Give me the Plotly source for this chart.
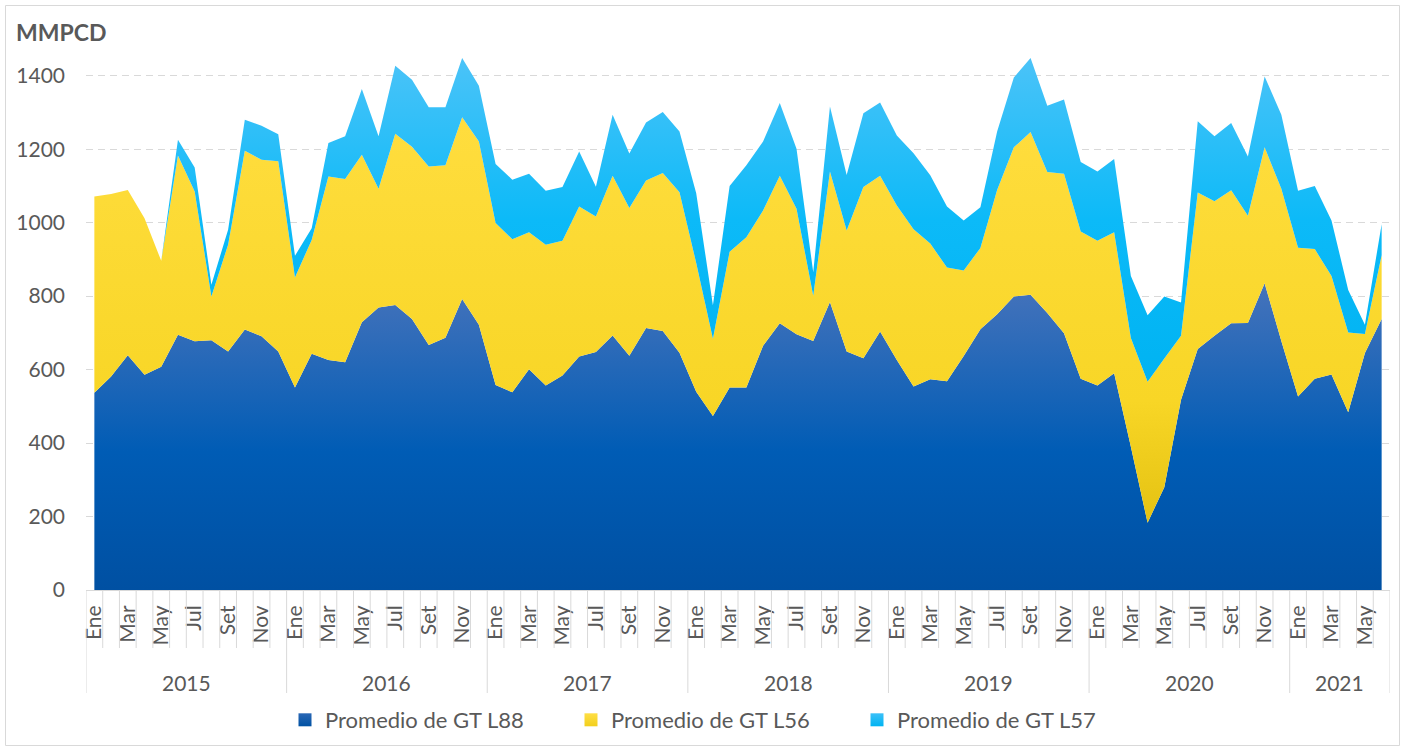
import plotly.graph_objects as go

# ---------------- data ----------------
month_names = ["Ene", "Feb", "Mar", "Abr", "May", "Jun", "Jul", "Ago", "Set", "Oct", "Nov", "Dic"]
years = [2015, 2016, 2017, 2018, 2019, 2020, 2021]
months_in_last_year = 6

gt_l88 = [537, 581, 639, 586, 608, 695, 677, 680, 649, 709, 691, 649,
          551, 643, 626, 620, 729, 769, 776, 738, 667, 687, 792, 722,
          558, 538, 601, 557, 584, 636, 648, 693, 638, 713, 705, 646,
          540, 474, 551, 551, 665, 726, 696, 678, 784, 649, 631, 704,
          626, 554, 574, 568, 637, 710, 751, 799, 804, 754, 699, 575,
          557, 590, 390, 183, 280, 518, 656, 692, 726, 727, 835, 678,
          527, 575, 587, 484, 645, 738]

gt_l56 = [534, 497, 450, 426, 288, 488, 408, 119, 291, 487, 480, 518,
          300, 310, 500, 499, 456, 323, 466, 469, 486, 469, 495, 499,
          441, 417, 373, 383, 367, 408, 369, 435, 402, 402, 430, 437,
          350, 210, 370, 409, 368, 402, 342, 123, 355, 330, 466, 424,
          421, 428, 369, 310, 233, 221, 338, 406, 443, 384, 434, 401,
          394, 384, 296, 384, 350, 174, 426, 366, 362, 292, 370, 414,
          405, 353, 268, 217, 52, 173]

gt_l57 = [0, 0, 0, 0, 0, 43, 65, 32, 41, 84, 93, 74,
          59, 32, 91, 116, 179, 143, 185, 182, 161, 158, 161, 152,
          161, 162, 159, 147, 146, 150, 81, 166, 148, 158, 166, 165,
          190, 91, 179, 196, 188, 198, 163, 64, 177, 151, 201, 199,
          190, 207, 186, 166, 136, 111, 159, 190, 201, 180, 202, 189,
          188, 199, 169, 181, 169, 91, 194, 177, 183, 161, 193, 202,
          155, 172, 151, 116, 25, 85]

series_names = ["Promedio de GT L88", "Promedio de GT L56", "Promedio de GT L57"]
y_title = "MMPCD"

# ---------------- categories ----------------
cat_year, cat_month = [], []
for y in years:
    n = months_in_last_year if y == years[-1] else 12
    for m in month_names[:n]:
        cat_year.append(y)
        cat_month.append(m)
categories = [f"{m} {y}" for m, y in zip(cat_month, cat_year)]
N = len(categories)

# ---------------- layout geometry (pixels) ----------------
W, H = 1405, 747
ML, MR, MT, MB = 86, 15, 39, 157
PW, PH = W - ML - MR, H - MT - MB


def px_to_paper_x(px):
    return (px - ML) / PW


def px_to_paper_y(py):
    return (H - MB - py) / PH


TXT = "#595959"
FONT = "Lato"
GRID = "#D9D9D9"

stack1 = gt_l88
stack2 = [a + b for a, b in zip(gt_l88, gt_l56)]
stack3 = [a + b + c for a, b, c in zip(gt_l88, gt_l56, gt_l57)]

fig = go.Figure()

fig.add_trace(go.Scatter(
    x=categories, y=gt_l88, name=series_names[0], stackgroup="one",
    mode="none", line=dict(width=0), showlegend=False,
    fillgradient=dict(type="vertical", start=0, stop=max(stack1),
                      colorscale=[[0, "#0050A2"], [0.45, "#005CB5"], [1, "#4673BB"]]),
))
fig.add_trace(go.Scatter(
    x=categories, y=gt_l56, name=series_names[1], stackgroup="one",
    mode="none", line=dict(width=0), showlegend=False,
    fillgradient=dict(type="vertical", start=min(stack1), stop=max(stack2),
                      colorscale=[[0, "#E4C212"], [0.3, "#F8D626"], [1, "#FFDD3E"]]),
))
fig.add_trace(go.Scatter(
    x=categories, y=gt_l57, name=series_names[2], stackgroup="one",
    mode="none", line=dict(width=0), showlegend=False,
    fillgradient=dict(type="vertical", start=min(stack2), stop=max(stack3),
                      colorscale=[[0, "#00B3F2"], [0.5, "#0CBAF8"], [1, "#4BC3F8"]]),
))

# legend-only entries (square swatches)
legend_colors = [("#2A67B5", "#0052A3"), ("#FFDF45", "#F2CF1C"), ("#3CC0F8", "#00B4F2")]
for name, (c1, c2) in zip(series_names, legend_colors):
    fig.add_trace(go.Scatter(
        x=[None], y=[None], mode="markers", name=name,
        marker=dict(symbol="square", size=13, color=c1,
                    gradient=dict(type="vertical", color=c2)),
    ))

# month tick labels every other month
tickvals = [categories[i] for i in range(N) if month_names.index(cat_month[i]) % 2 == 0]
ticktext = [cat_month[i] for i in range(N) if month_names.index(cat_month[i]) % 2 == 0]

shapes = []
tick_bottom = px_to_paper_y(648)
year_bottom = px_to_paper_y(693)
year_starts = [i for i in range(N) if i == 0 or cat_year[i] != cat_year[i - 1]]
for i in range(1, N):
    if i in year_starts:
        continue
    shapes.append(dict(type="line", xref="x", yref="paper", x0=i - 0.5, x1=i - 0.5,
                       y0=0, y1=tick_bottom, line=dict(color=GRID, width=1)))
for b in year_starts + [N]:
    shapes.append(dict(type="line", xref="x", yref="paper", x0=b - 0.5, x1=b - 0.5,
                       y0=0, y1=year_bottom, line=dict(color=GRID, width=1)))
shapes.append(dict(type="rect", xref="paper", yref="paper",
                   x0=px_to_paper_x(5.5), x1=px_to_paper_x(1399.5),
                   y0=px_to_paper_y(745.5), y1=px_to_paper_y(5.5),
                   line=dict(color=GRID, width=1), fillcolor="rgba(0,0,0,0)", layer="below"))

annotations = []
for k, s in enumerate(year_starts):
    e = year_starts[k + 1] if k + 1 < len(year_starts) else N
    annotations.append(dict(x=(s + e - 1) / 2, y=px_to_paper_y(682), xref="x", yref="paper",
                            text=str(cat_year[s]), showarrow=False,
                            font=dict(family=FONT, size=21, color=TXT),
                            xanchor="center", yanchor="middle"))
annotations.append(dict(x=px_to_paper_x(14), y=px_to_paper_y(32), xref="paper", yref="paper",
                        text=f"<b>{y_title}</b>", showarrow=False,
                        font=dict(family=FONT, size=23, color=TXT),
                        xanchor="left", yanchor="middle"))

fig.update_layout(
    width=W, height=H,
    margin=dict(l=ML, r=MR, t=MT, b=MB, pad=0, autoexpand=False),
    paper_bgcolor="white", plot_bgcolor="white",
    font=dict(family=FONT, size=20, color=TXT),
    showlegend=True,
    legend=dict(orientation="h", traceorder="normal",
                x=px_to_paper_x(714), xanchor="center",
                y=px_to_paper_y(720), yanchor="middle",
                font=dict(family=FONT, size=22, color=TXT),
                itemwidth=30, entrywidth=241, entrywidthmode="pixels",
                bgcolor="rgba(0,0,0,0)"),
    xaxis=dict(type="category", categoryorder="array", categoryarray=categories,
               range=[-0.5, N - 0.5], tickmode="array", tickvals=tickvals, ticktext=ticktext,
               tickangle=-90, ticks="", showgrid=False, showline=True, linecolor=GRID,
               linewidth=1, tickfont=dict(family=FONT, size=21, color=TXT),
               ticklabelstandoff=6, zeroline=False, automargin=False),
    yaxis=dict(range=[0, 1500], tickmode="linear", tick0=0, dtick=200,
               showgrid=True, gridcolor=GRID, gridwidth=1, griddash="7px,5px",
               showline=False, zeroline=False, ticks="",
               tickfont=dict(family=FONT, size=21, color=TXT), ticklabelstandoff=20,
               automargin=False),
    shapes=shapes,
    annotations=annotations,
    hovermode=False,
)

fig.write_html("out.html", config={"displayModeBar": False},
               post_script="document.body.style.margin='0';document.body.style.overflow='hidden';")
